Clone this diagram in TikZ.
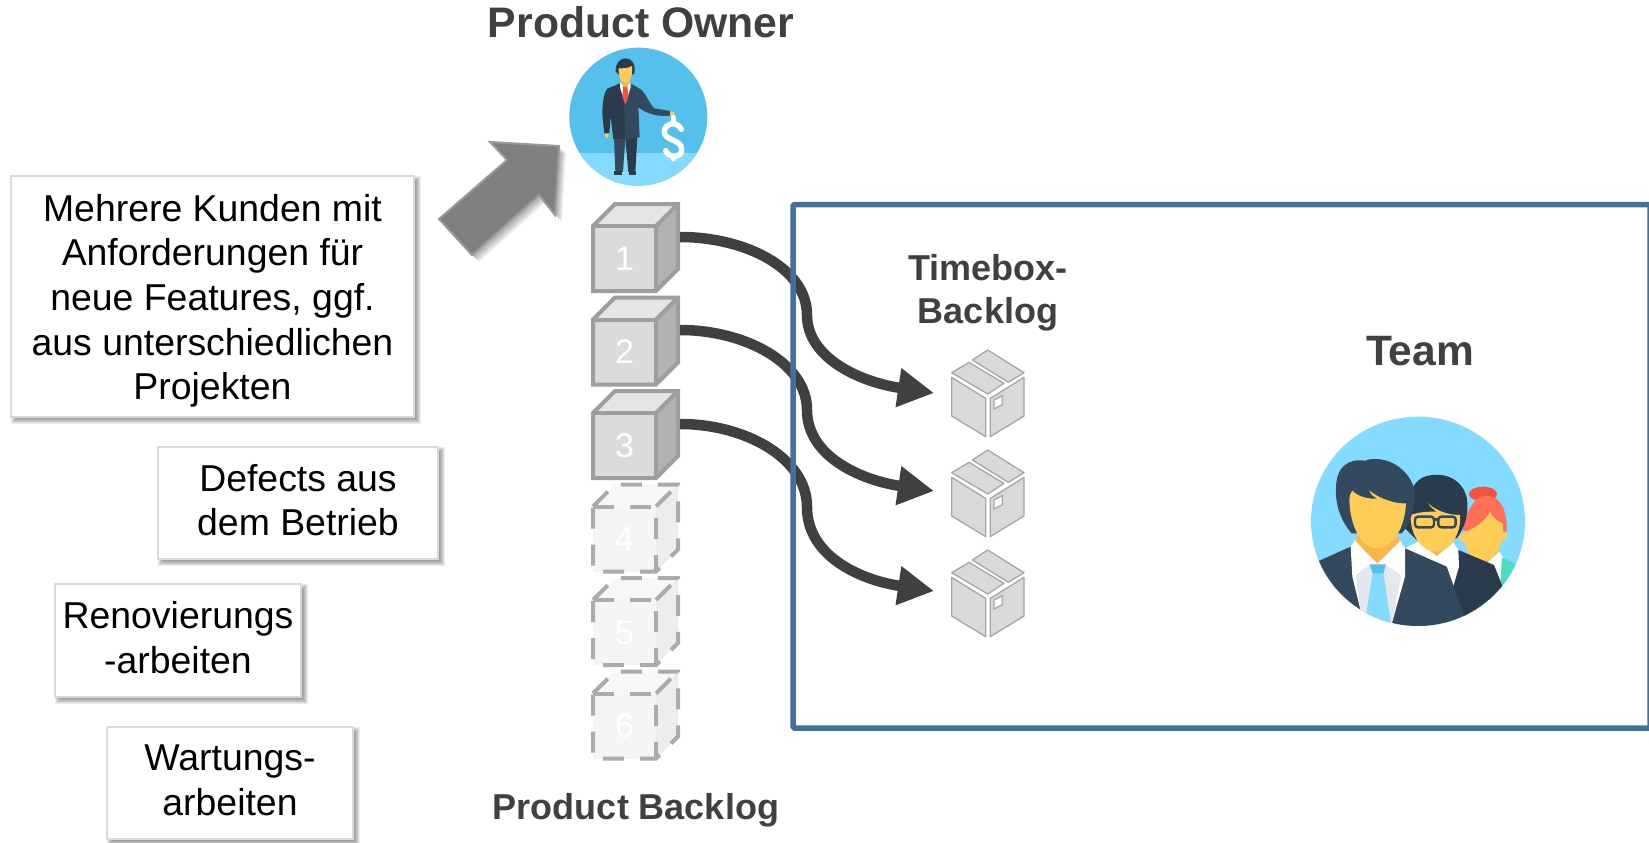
\documentclass[tikz,border=0pt]{standalone}
\usepackage{fontspec}
\setmainfont{Liberation Sans}
\usetikzlibrary{arrows.meta}
\definecolor{frameblue}{HTML}{41719C}
\definecolor{darktxt}{HTML}{404040}
\definecolor{skyA}{HTML}{54C0EB}
\definecolor{skyB}{HTML}{84DBFF}
\definecolor{navyA}{HTML}{334A5E}
\definecolor{navyB}{HTML}{2B3B4E}
\definecolor{faceY}{HTML}{FFCD56}
\definecolor{neckO}{HTML}{F9B54C}
\definecolor{bunR}{HTML}{F1543F}
\definecolor{hairR}{HTML}{FF7058}
\definecolor{tealG}{HTML}{4CDBC4}
\definecolor{vestG}{HTML}{E4E7EC}
\tikzset{
  x=1pt,y=-1pt,
  notebox/.style={draw=black!15,line width=1.5pt,fill=white,inner sep=0pt,align=center,
     font=\fontsize{37.4}{44.7}\selectfont,text=black},
  heading/.style={font=\fontsize{36}{43}\selectfont\bfseries,text=darktxt,align=center,inner sep=0pt},
  flow/.style={draw=darktxt,line width=10.5pt,-{Triangle[length=36pt,width=37pt]}},
  cubeline/.style={draw=black!38,line width=4pt,line join=miter},
  cubedash/.style={draw=black!33,line width=4pt,dash pattern=on 21pt off 16pt},
  cubenum/.style={inner sep=0pt,text=white,font=\fontsize{34}{40}\selectfont},
  parcel/.style={fill=black!15,draw=black!35,line width=1.3pt,line join=round},
}
% soft shadow: x0,y0,x1,y1
\newcommand{\softbox}[4]{%
  \foreach \e in {4,3,2,1,0,-1,-2}{%
    \fill[black,opacity=.075] (#1+4-\e,#2+4-\e) rectangle (#3+3+\e,#4+3+\e);}%
}
% cube: name, number, top of front face, line style, front/top/side fill
\newcommand{\stackcube}[7]{%
  \fill[#6] (593,#3) -- (615,#3-22) -- (678,#3-22) -- (656,#3) -- cycle;
  \fill[#7] (656,#3) -- (678,#3-22) -- (678,#3+43) -- (656,#3+65) -- cycle;
  \node[cubenum,fill=#5,minimum width=63pt,minimum height=65pt] (#1) at (624.5,#3+32.5) {#2};
  \draw[#4] (593,#3) -- (615,#3-22) -- (678,#3-22) -- (678,#3+43) -- (656,#3+65) -- (593,#3+65) -- cycle;
  \draw[#4] (593,#3) -- (656,#3) -- (656,#3+65);
  \draw[#4] (656,#3) -- (678,#3-22);
}
\newcommand{\parcelicon}[1]{%
  \begin{scope}[shift={(920,#1)},scale=1/3]
    \path[parcel] (95,112) -- (197,175) -- (197,290) -- (95,228) -- cycle;
    \path[parcel] (211,175) -- (312,112) -- (312,228) -- (211,290) -- cycle;
    \path[parcel] (95,98) -- (147,67) -- (252,130) -- (203,162) -- cycle;
    \path[parcel] (157,60) -- (203,30) -- (312,98) -- (265,127) -- cycle;
    \path[parcel,fill=white] (222,180) -- (247,167) -- (247,194) -- (222,207) -- cycle;
  \end{scope}%
}
\begin{document}
\begin{tikzpicture}
\useasboundingbox (0,0) rectangle (1649,843);
\clip (0,0) rectangle (1649,843);
\fill[white] (0,0) rectangle (1649,843);

% --- note boxes
\softbox{11}{176}{414}{417}
\node[notebox,minimum width=403pt,minimum height=241pt] (kunden) at (212.5,296.5)
 {\rule{0pt}{38pt}Mehrere Kunden mit\\Anforderungen für\\neue Features, ggf.\\aus unterschiedlichen\\Projekten\rule[-10pt]{0pt}{10pt}};
\softbox{158}{447}{438}{559}
\node[notebox,minimum width=280pt,minimum height=112pt] (defects) at (298,503)
 {\rule{0pt}{31pt}Defects aus\\dem Betrieb\rule[-10pt]{0pt}{10pt}};
\softbox{55}{584}{301}{697}
\node[notebox,minimum width=246pt,minimum height=113pt] (renov) at (178,640.5)
 {\rule{0pt}{31pt}Renovierungs\\-arbeiten\rule[-10pt]{0pt}{10pt}};
\softbox{107}{727}{353}{839}
\node[notebox,minimum width=246pt,minimum height=112pt] (wartung) at (230,783)
 {\rule{0pt}{30pt}Wartungs-\\arbeiten\rule[-10pt]{0pt}{10pt}};

% --- big grey arrow
\foreach \e in {0,1,2,3,4,5}{
  \fill[black,opacity=.055,shift={(2+\e,2+\e)}]
   (490,142) -- (559,146) -- (555,215) -- (539,195) -- (472,255) -- (439,219) -- (507,160) -- cycle;}
\path[fill=black!50,draw=black!40,line width=2pt,line join=miter]
   (490,142) -- (559,146) -- (555,215) -- (539,195) -- (472,255) -- (439,219) -- (507,160) -- cycle;

% --- headings
\node[heading,font=\fontsize{42.7}{48}\selectfont\bfseries,anchor=base] (po) at (641,38) {Product Owner};
\node[heading,anchor=base] (pb) at (636,819) {Product Backlog};
\node[heading,anchor=base] (tb1) at (988,280) {Timebox-};
\node[heading,anchor=base] (tb2) at (988,323) {Backlog};
\node[heading,font=\fontsize{42.5}{48}\selectfont\bfseries,anchor=base] (team) at (1420,365) {Team};

% --- product owner icon
\begin{scope}[shift={(420,0)},scale=1/3]
  \begin{scope}
    \clip (655,350) circle[radius=207];
    \fill[skyA] (440,130) rectangle (870,570);
    \fill[skyB] (440,458) rectangle (870,570);
  \end{scope}
  % legs
  \fill[navyA] (582,410) -- (616,415) -- (609,516) -- (586,516) -- cycle;
  \fill[navyB] (616,415) -- (652,410) -- (646,516) -- (625,516) -- cycle;
  \fill[navyB] (583,514) -- (605,514) -- (605,526) -- (583,526) -- cycle;
  \fill[navyB] (626,514) -- (648,514) -- (648,526) -- (626,526) -- cycle;
  % hands
  \fill[faceY] (553,398) -- (568,398) -- (563,414) -- (557,412) -- cycle;
  \fill[faceY] (748,333) -- (765,338) -- (760,348) -- (748,347) -- cycle;
  % jacket
  \fill[navyB] (600,250) -- (562,266) .. controls (550,280) and (547,315) .. (547,345) -- (553,400) -- (568,400) -- (572,350) -- (580,418) -- (616,415) -- (616,310) -- cycle;
  \fill[navyA] (632,250) -- (665,270) .. controls (680,285) and (688,310) .. (702,325) -- (750,333) -- (750,347) .. controls (720,350) and (685,345) .. (655,322) -- (659,412) -- (616,418) -- (612,310) -- cycle;
  % shirt, tie
  \fill[white] (600,248) -- (632,248) -- (632,262) -- (616,312) -- (600,262) -- cycle;
  \fill[bunR] (610,258) -- (622,258) -- (625,290) -- (616,312) -- (607,290) -- cycle;
  % head
  \fill[navyB] (587,215) .. controls (585,190) and (600,174) .. (618,175) .. controls (636,176) and (648,192) .. (643,222) -- (630,225) -- (597,225) -- cycle;
  \fill[neckO] (603,235) -- (630,235) -- (630,250) -- (616,262) -- (603,250) -- cycle;
  \fill[faceY] (596,205) .. controls (610,205) and (625,205) .. (636,198) .. controls (638,225) and (632,248) .. (616,248) .. controls (600,248) and (595,225) .. (596,205) -- cycle;
  % dollar
  \draw[white,line width=5.5pt,line cap=round] (784,388) .. controls (772,362) and (733,368) .. (733,396) .. controls (733,422) and (785,418) .. (785,448) .. controls (785,476) and (745,474) .. (737,452);
  \draw[white,line width=5pt,line cap=round] (760,352) -- (760,366) (760,470) -- (760,477);
\end{scope}

% --- stack of cubes
\stackcube{cubeA}{1}{226}{cubeline}{black!14}{black!10}{black!30}
\stackcube{cubeB}{2}{319.5}{cubeline}{black!14}{black!10}{black!30}
\stackcube{cubeC}{3}{413}{cubeline}{black!14}{black!10}{black!30}
\stackcube{cubeD}{4}{506.5}{cubedash}{black!4}{black!3}{black!7}
\stackcube{cubeE}{5}{600}{cubedash}{black!4}{black!3}{black!7}
\stackcube{cubeF}{6}{693.5}{cubedash}{black!4}{black!3}{black!7}

% --- parcels
\parcelicon{340}
\parcelicon{440}
\parcelicon{540}

% --- connectors
\coordinate (oA) at (680,237);
\coordinate (oB) at (680,330);
\coordinate (oC) at (680,424);
\coordinate (tA) at (934,393);
\coordinate (tB) at (934,491);
\coordinate (tC) at (934,591);
\draw[flow] (oA) .. controls (745,237) and (807,268) .. (807,315) .. controls (807,358) and (860,382) .. (tA);
\draw[flow] (oB) .. controls (745,330) and (807,363) .. (807,410) .. controls (807,456) and (860,480) .. (tB);
\draw[flow] (oC) .. controls (745,424) and (807,458) .. (807,507) .. controls (807,556) and (860,580) .. (tC);

% --- frame
\draw[frameblue,line width=5.5pt,rounded corners=1.5pt] (793,204.5) rectangle (1650,728);

% --- team icon
\begin{scope}[shift={(1290,400)},scale=1/3]
  \clip (384,364) ellipse[x radius=321,y radius=314];
  \fill[skyB] (50,40) rectangle (720,690);
  % woman
  \fill[white] (590,490) -- (625,452) -- (645,480) -- (632,565) -- cycle;
  \fill[tealG] (636,473) -- (690,497) -- (630,570) -- cycle;
  \fill[neckO] (530,445) -- (580,497) -- (627,455) -- (600,440) -- cycle;
  \fill[bunR] (579,282) ellipse[x radius=42,y radius=22];
  \fill[hairR] (518,392) .. controls (530,320) and (560,287) .. (590,287) .. controls (630,287) and (653,330) .. (650,395) -- cycle;
  \fill[faceY] (517,412) circle[radius=12] (640,408) circle[radius=12];
  \fill[faceY] (520,398) .. controls (555,385) and (585,365) .. (600,335) .. controls (610,355) and (625,365) .. (638,370) .. controls (645,420) and (620,482) .. (580,482) .. controls (540,482) and (520,440) .. (520,398) -- cycle;
  % middle man
  \fill[navyB] (470,490) -- (505,450) -- (612,495) -- (640,565) -- (520,660) -- cycle;
  \fill[white] (345,445) -- (385,425) -- (490,428) -- (505,450) -- (507,500) -- (490,558) -- (470,500) -- cycle;
  \fill[neckO] (385,425) -- (440,468) -- (492,425) -- (470,410) -- (400,410) -- cycle;
  \fill[navyB] (345,385) .. controls (345,300) and (365,232) .. (420,226) .. controls (490,215) and (530,260) .. (532,310) .. controls (535,350) and (520,390) .. (500,415) -- (380,420) -- cycle;
  \fill[faceY] (362,345) .. controls (390,335) and (415,335) .. (440,335) .. controls (430,328) and (420,320) .. (415,310) .. controls (440,335) and (480,345) .. (510,345) .. controls (515,400) and (480,455) .. (437,455) .. controls (395,455) and (360,405) .. (362,345) -- cycle;
  \draw[navyA,line width=2.4pt,rounded corners=3pt] (375,350) rectangle (432,382) (445,350) rectangle (497,382);
  \draw[navyA,line width=2.4pt] (432,358) -- (445,358);
  % front man
  \fill[navyA] (88,482) -- (182,440) -- (345,445) -- (470,500) -- (522,645) -- (420,720) -- (60,720) -- (60,482) -- cycle;
  \fill[white] (182,440) -- (200,415) -- (325,415) -- (345,445) -- (345,530) -- (305,672) -- (212,632) -- (187,530) -- cycle;
  \fill[vestG] (197,528) .. controls (210,510) and (240,495) .. (262,490) .. controls (290,495) and (320,510) .. (333,530) -- (305,672) -- (212,632) -- cycle;
  \fill[skyB] (248,518) -- (280,518) -- (303,672) -- (228,645) -- cycle;
  \fill[skyA] (238,493) -- (288,493) -- (280,520) -- (248,520) -- cycle;
  \fill[neckO] (198,410) -- (198,425) -- (262,490) -- (328,425) -- (328,410) -- cycle;
  \fill[navyA] (185,400) .. controls (150,360) and (135,310) .. (138,260) .. controls (140,200) and (175,175) .. (225,182) .. controls (270,165) and (350,190) .. (372,265) .. controls (378,310) and (365,370) .. (335,400) -- cycle;
  \fill[faceY] (178,300) .. controls (180,380) and (215,445) .. (262,445) .. controls (310,445) and (345,380) .. (348,310) .. controls (320,312) and (275,300) .. (238,272) .. controls (243,285) and (252,290) .. (262,296) .. controls (230,297) and (205,290) .. (187,272) .. controls (180,280) and (178,290) .. (178,300) -- cycle;
\end{scope}
\end{tikzpicture}
\end{document}
